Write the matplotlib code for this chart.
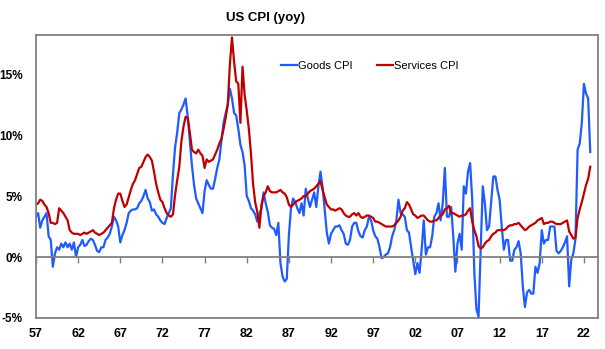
import numpy as np
import matplotlib
matplotlib.use("Agg")
import matplotlib.pyplot as plt

plt.rcParams["font.family"] = ["Liberation Sans", "DejaVu Sans"]

# quarterly yoy readings, 1957Q1 .. 2022Q4
start_year = 1957

goods_cpi = [
    3.3, 3.6, 2.4, 3.0,   # 1957
    3.3, 3.6, 1.7, 1.4,
    -0.8, 0.3, 0.8, 0.6,
    1.1, 0.8, 1.2, 0.8,   # 1960
    1.1, 0.6, 1.2, 0.0,
    0.8, 1.0, 1.4, 0.9,
    1.0, 1.3, 1.5, 1.4,
    1.0, 0.5, 0.4, 0.8,
    0.8, 1.4, 1.6, 1.9,   # 1965
    2.5, 3.3, 3.0, 2.5,
    1.2, 1.8, 2.2, 2.8,
    3.6, 3.8, 3.9, 3.9,
    4.0, 4.4, 4.6, 5.0,
    5.5, 4.8, 4.5, 3.8,   # 1970
    3.9, 3.5, 3.3, 3.0,
    2.8, 2.7, 3.2, 3.6,
    4.0, 6.8, 9.0, 10.2,
    11.8, 12.1, 12.5, 13.0,
    11.5, 9.5, 7.5, 5.9,  # 1975
    4.8, 4.4, 4.0, 3.6,
    5.4, 6.3, 5.9, 5.6,
    5.6, 6.4, 7.3, 8.0,
    9.5, 11.0, 11.8, 12.5,
    13.8, 13.0, 11.8, 11.6,  # 1980
    10.5, 9.2, 8.6, 7.5,
    5.0, 4.6, 4.0, 3.8,
    3.5, 2.9, 3.5, 4.0,
    5.3, 4.4, 3.7, 2.6,
    2.4, 2.3, 1.8, 2.8,   # 1985
    -0.5, -1.6, -2.0, -1.8,
    1.8, 4.0, 4.8, 4.5,
    4.0, 3.6, 4.4, 3.4,
    5.6, 4.8, 4.1, 4.7,
    5.3, 4.1, 5.8, 7.0,   # 1990
    5.7, 3.8, 2.0, 1.1,
    1.9, 2.2, 2.5, 2.5,
    2.6, 2.2, 1.9, 1.1,
    1.0, 1.4, 2.5, 2.8,
    2.8, 2.1, 1.7, 1.6,   # 1995
    2.2, 2.5, 3.3, 3.0,
    2.2, 1.7, 1.5, 0.8,
    -0.1, 0.0, 0.2, 0.3,
    0.8, 1.7, 2.2, 3.0,
    4.7, 3.6, 3.5, 3.3,   # 2000
    2.2, 2.0, 0.8, -0.3,
    -1.4, -0.5, -1.3, 0.6,
    3.0, 0.2, 0.8, 0.8,
    1.7, 3.3, 3.6, 4.4,
    3.0, 4.4, 7.3, 3.3,   # 2005
    3.3, 4.1, 1.7, -1.2,
    1.1, 1.9, 0.6, 5.8,
    5.2, 7.0, 7.7, 4.7,
    -1.3, -4.3, -4.9, 0.6,
    5.8, 4.4, 2.2, 2.5,   # 2010
    4.5, 6.6, 6.6, 5.5,
    4.7, 2.5, 0.6, 1.4,
    1.4, -0.3, -0.3, 0.6,
    0.8, 1.3, 0.3, -2.4,
    -4.1, -2.9, -2.7, -3.0,  # 2015
    -3.0, -0.8, -1.3, -0.5,
    2.2, 1.1, 1.4, 1.4,
    2.5, 2.5, 2.5, 0.5,
    0.3, 0.5, 0.8, 1.2,
    1.7, -2.4, -0.2, 0.3,  # 2020
    1.5, 8.8, 9.3, 11.0,
    14.2, 13.4, 13.0, 8.6,
]

services_cpi = [
    4.3, 4.4, 4.7, 4.6,   # 1957
    4.3, 4.1, 3.6, 2.8,
    2.8, 2.7, 2.8, 4.0,
    3.8, 3.6, 3.3, 3.0,   # 1960
    2.2, 2.0, 1.9, 1.9,
    1.9, 1.8, 1.9, 2.0,
    1.9, 2.0, 2.1, 2.2,
    2.0, 1.9, 1.8, 1.9,
    2.0, 2.2, 2.4, 2.6,   # 1965
    2.8, 4.0, 4.7, 5.2,
    5.2, 4.6, 4.1, 4.3,
    4.9, 5.5, 6.0, 6.3,
    6.8, 7.3, 7.4, 7.8,
    8.2, 8.4, 8.2, 7.9,   # 1970
    7.0, 6.0, 5.3, 4.7,
    4.5, 4.0, 3.6, 3.4,
    3.3, 3.5, 5.1, 6.3,
    7.4, 9.5, 10.7, 11.5,
    11.4, 10.2, 8.8, 8.6,  # 1975
    8.5, 8.8, 8.5, 8.3,
    7.3, 8.0, 7.8, 7.9,
    8.0, 8.4, 8.8, 9.3,
    9.7, 10.5, 11.4, 12.5,
    15.8, 18.0, 16.0, 14.4,  # 1980
    14.2, 11.0, 15.6, 13.3,
    12.0, 10.5, 8.5, 6.0,
    4.5, 3.7, 2.4, 4.3,
    5.0, 5.3, 5.8, 5.4,
    5.3, 5.3, 5.3, 5.4,   # 1985
    5.5, 5.3, 5.2, 4.9,
    4.3, 4.1, 4.3, 4.5,
    4.6, 4.7, 4.8, 5.0,
    5.0, 5.2, 5.4, 5.5,
    5.6, 5.8, 6.0, 6.2,   # 1990
    5.5, 4.9, 4.3, 4.1,
    3.9, 3.9, 3.8, 3.9,
    4.0, 3.9, 3.6, 3.4,
    3.3, 3.3, 3.5, 3.6,
    3.4, 3.6, 3.3, 3.2,   # 1995
    3.3, 3.4, 3.4, 3.3,
    3.2, 2.9, 2.9, 2.8,
    2.7, 2.6, 2.5, 2.5,
    2.5, 2.5, 2.6, 2.8,
    3.0, 3.3, 3.8, 4.0,   # 2000
    4.5, 4.3, 3.9, 3.5,
    3.4, 3.2, 3.3, 3.4,
    3.4, 3.2, 3.0, 2.9,
    2.9, 3.0, 3.0, 3.2,
    3.4, 3.5, 3.9, 4.0,   # 2005
    4.2, 3.6, 3.6, 3.5,
    3.4, 3.3, 3.4, 3.4,
    3.5, 3.8, 4.0, 2.9,
    2.2, 1.7, 0.9, 0.7,
    0.8, 1.1, 1.3, 1.4,   # 2010
    1.7, 1.9, 2.0, 2.2,
    2.2, 2.2, 2.2, 2.3,
    2.5, 2.6, 2.6, 2.7,
    2.7, 2.8, 2.6, 2.4,
    2.2, 2.3, 2.5, 2.6,   # 2015
    2.7, 2.8, 3.0, 3.1,
    3.2, 2.7, 2.8, 2.8,
    2.9, 2.9, 2.8, 2.7,
    2.7, 2.7, 2.8, 2.9,
    3.0, 2.1, 1.8, 1.5,   # 2020
    1.6, 3.2, 3.9, 4.5,
    5.2, 5.9, 6.4, 7.4,
]

tick_years = list(range(1957, 2023, 5))
tick_labels = ["%02d" % (y % 100) for y in tick_years]
y_ticks = [-5, 0, 5, 10, 15]

blue = "#1f5bff"
red = "#c00000"
frame_grey = "#808080"


def main() -> None:
    t = start_year + np.arange(len(goods_cpi)) / 4.0

    fig = plt.figure(figsize=(6.05, 3.49), dpi=100)
    ax = fig.add_axes([36 / 605, 1 - 318 / 349, 562 / 605, 283 / 349])

    ax.plot(t, goods_cpi, color=blue, lw=1.6, label="Goods CPI")
    ax.plot(t, services_cpi, color=red, lw=1.6, label="Services CPI")

    ax.set_xlim(1957, 2023.67)
    ax.set_ylim(-5, 18.2)

    # zero line doubles as the x axis with its tick marks
    ax.spines["bottom"].set_position(("data", 0))
    for s in ["bottom", "top", "left", "right"]:
        ax.spines[s].set_color(frame_grey)
        ax.spines[s].set_linewidth(1.3)
    ax.set_xticks(tick_years)
    ax.tick_params(axis="x", direction="out", length=4, width=1,
                   color=frame_grey, labelbottom=False)

    sec = ax.secondary_xaxis("bottom")
    sec.set_xticks(tick_years, tick_labels)
    sec.tick_params(length=0, pad=7, labelsize=9)
    sec.spines["bottom"].set_color(frame_grey)
    sec.spines["bottom"].set_linewidth(1.3)
    for lab in sec.get_xticklabels():
        lab.set_fontweight("bold")

    ax.set_yticks(y_ticks, ["%d%%" % v for v in y_ticks])
    ax.tick_params(axis="y", length=0, pad=9.5, labelsize=8.5)
    for lab in ax.get_yticklabels():
        lab.set_fontweight("bold")

    fig.text(266 / 605, 1 - 18 / 349, "US CPI (yoy)", ha="center",
             va="center", fontsize=9.5, fontweight="bold")

    ax.legend(loc="center left", bbox_to_anchor=(281 / 605, 1 - 66 / 349),
              bbox_transform=fig.transFigure, ncol=2, frameon=False,
              fontsize=8, handlelength=1.45, handletextpad=0.1,
              columnspacing=2.2, borderpad=0, borderaxespad=0)

    fig.savefig("out.png", dpi=100)


if __name__ == "__main__":
    main()
